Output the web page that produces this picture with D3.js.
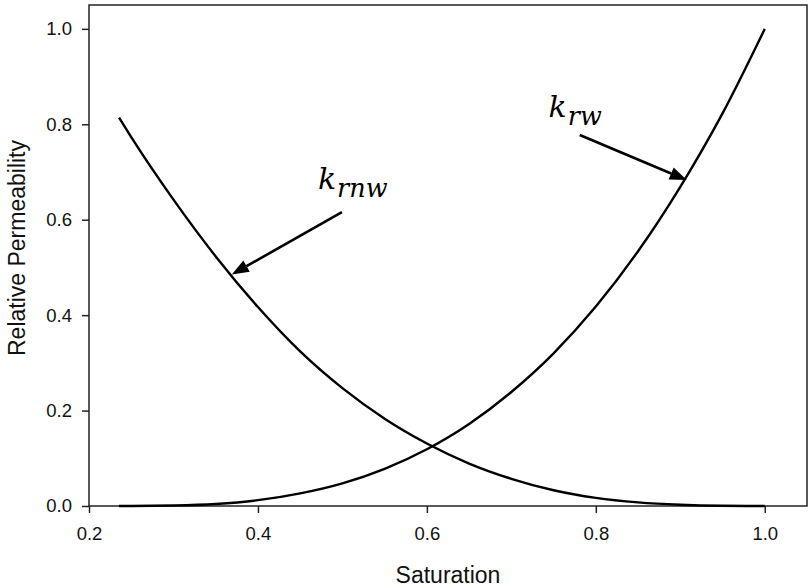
<!DOCTYPE html>
<html>
<head>
<meta charset="utf-8">
<script src="https://cdn.jsdelivr.net/npm/d3@7"></script>
<style>
  body { margin: 0; background: #fff; }
  svg { display: block; }
</style>
</head>
<body>
<svg id="chart" width="812" height="588"></svg>
<script>
// Wetting-phase saturation samples and relative permeability curves
const saturation = [0.2355, 0.25, 0.30, 0.35, 0.40, 0.45, 0.50, 0.55, 0.60, 0.65, 0.70, 0.75, 0.80, 0.85, 0.90, 0.95, 1.00];
const krw  = [0.000, 0.000, 0.001, 0.0043, 0.0122, 0.0265, 0.0475, 0.078, 0.119, 0.172, 0.239, 0.320, 0.418, 0.534, 0.669, 0.823, 1.000];
const krnw = [0.814, 0.773, 0.642, 0.523, 0.417, 0.324, 0.247, 0.183, 0.131, 0.089, 0.057, 0.033, 0.017, 0.0075, 0.0025, 0.0004, 0.000];

const xTicks = [0.2, 0.4, 0.6, 0.8, 1.0];
const yTicks = [0.0, 0.2, 0.4, 0.6, 0.8, 1.0];

// Curve annotations: label anchor, arrow tail, arrow tip (data units)
const annotations = [
  { base: "k", sub: "rnw", label: [0.4710, 0.664], from: [0.4994, 0.616], to: [0.369, 0.485] },
  { base: "k", sub: "rw",  label: [0.7440, 0.815], from: [0.781, 0.7776], to: [0.9077, 0.683] }
];

const svg = d3.select("#chart");
const plot = { left: 89, right: 807, top: 5, bottom: 506 };

const x = d3.scaleLinear().domain([0.2, 1.05]).range([plot.left, plot.right]);
const y = d3.scaleLinear().domain([0, 1.05]).range([plot.bottom, plot.top]);

const axisColor = "#222";
const fmt = d3.format(".1f");

// Bottom axis
const gx = svg.append("g")
  .attr("transform", `translate(0,${plot.bottom})`)
  .call(d3.axisBottom(x).tickValues(xTicks).tickSize(7).tickPadding(14).tickFormat(fmt));
// Left axis
const gy = svg.append("g")
  .attr("transform", `translate(${plot.left},0)`)
  .call(d3.axisLeft(y).tickValues(yTicks).tickSize(7).tickPadding(10).tickFormat(fmt));

[gx, gy].forEach(g => {
  g.select(".domain").remove();
  g.selectAll(".tick line").attr("stroke", axisColor).attr("stroke-width", 1.5);
  g.selectAll(".tick text")
    .attr("fill", "#111")
    .style("font-family", "'Liberation Sans', Arial, sans-serif")
    .style("font-size", "18.5px");
});

// Plot frame
svg.append("rect")
  .attr("x", plot.left).attr("y", plot.top)
  .attr("width", plot.right - plot.left).attr("height", plot.bottom - plot.top)
  .attr("fill", "none").attr("stroke", axisColor).attr("stroke-width", 1.5);

// Curves
const line = d3.line()
  .x(d => x(d[0]))
  .y(d => y(d[1]))
  .curve(d3.curveMonotoneX);

[krw, krnw].forEach(series => {
  svg.append("path")
    .datum(saturation.map((s, i) => [s, series[i]]))
    .attr("d", line)
    .attr("fill", "none")
    .attr("stroke", "#000")
    .attr("stroke-width", 2.4);
});

// Annotations: arrows and italic labels
annotations.forEach(a => {
  const x1 = x(a.from[0]), y1 = y(a.from[1]);
  const x2 = x(a.to[0]),   y2 = y(a.to[1]);
  const ang = Math.atan2(y2 - y1, x2 - x1);
  const headLen = 17, headHalf = 6.5;
  const bx = x2 - headLen * Math.cos(ang), by = y2 - headLen * Math.sin(ang);
  svg.append("line")
    .attr("x1", x1).attr("y1", y1).attr("x2", bx).attr("y2", by)
    .attr("stroke", "#000").attr("stroke-width", 2.6);
  const px = -Math.sin(ang) * headHalf, py = Math.cos(ang) * headHalf;
  svg.append("polygon")
    .attr("points", [[x2, y2], [bx + px, by + py], [bx - px, by - py]].map(p => p.join(",")).join(" "))
    .attr("fill", "#000");

  const t = svg.append("text")
    .attr("x", x(a.label[0])).attr("y", y(a.label[1]))
    .attr("fill", "#000")
    .style("font-family", "'DejaVu Serif', serif")
    .style("font-style", "italic");
  t.append("tspan").style("font-size", "30px").text(a.base);
  t.append("tspan").attr("dy", 8).attr("dx", 1).style("font-size", "25.5px").text(a.sub);
});

// Axis titles
svg.append("text")
  .attr("x", (plot.left + plot.right) / 2).attr("y", 583)
  .attr("text-anchor", "middle")
  .attr("fill", "#111")
  .style("font-family", "'Liberation Sans', Arial, sans-serif")
  .style("font-size", "23px")
  .text("Saturation");

svg.append("text")
  .attr("transform", "translate(25,248) rotate(-90)")
  .attr("text-anchor", "middle")
  .attr("fill", "#111")
  .style("font-family", "'Liberation Sans', Arial, sans-serif")
  .style("font-size", "23px")
  .text("Relative Permeability");
</script>
</body>
</html>
